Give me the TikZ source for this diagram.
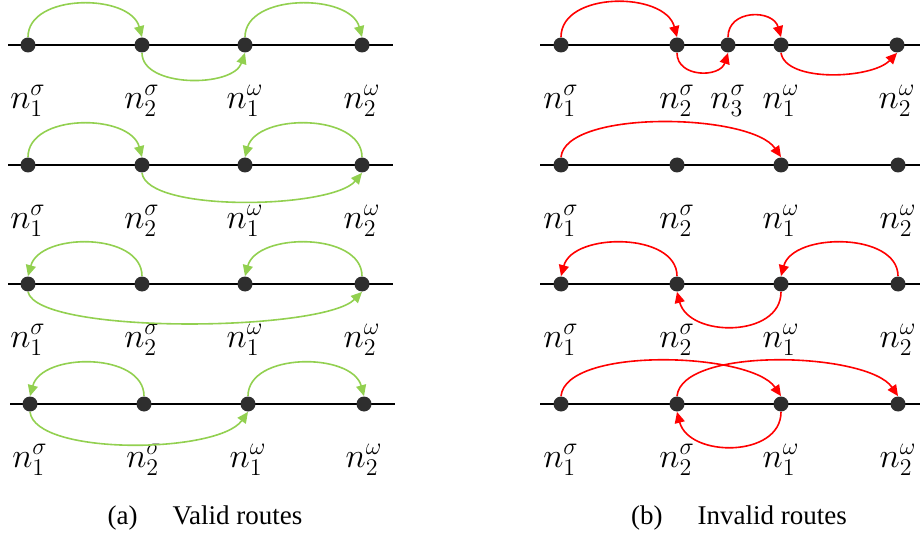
\documentclass[tikz,border=0pt]{standalone}
\usepackage{amsmath}
\usepackage{fontspec}
\setmainfont{Liberation Serif}
\usepackage{xcolor}
\usepackage{tikz}
\usetikzlibrary{arrows.meta, positioning}
\definecolor{RouteGreen}{HTML}{92D050}
\definecolor{RouteRed}{HTML}{FF0000}
\definecolor{DotGray}{HTML}{2E2E2E}

\begin{document}
\begin{tikzpicture}[
    x=0.5pt, y=-0.5pt,
    dot/.style={circle, fill=DotGray, inner sep=0pt, minimum size=7.5pt},
    track/.style={black, line width=1pt},
    lbl/.style={font=\fontsize{18}{21}\selectfont},
    good/.style={RouteGreen, line width=0.8pt, -{Triangle[length=5.5pt,width=5pt]}},
    bad/.style={RouteRed, line width=0.8pt, -{Triangle[length=5.5pt,width=5pt]}},
    subcap/.style={font=\fontsize{13.5}{16}\selectfont}
]
\useasboundingbox (0,0) rectangle (920,534);

% --- (a) valid routes ---
% row 1
\coordinate (a1b) at (8,45);
\coordinate (a1e) at (393,45);
\draw[track] (a1b) -- (a1e);
\node[dot] (a1s1) at (28,45) {};
\node[dot] (a1s2) at (142,45) {};
\node[dot] (a1w1) at (245,45) {};
\node[dot] (a1w2) at (362,45) {};
\node[lbl] at ([yshift=-28pt]a1s1) {$n_1^\sigma$};
\node[lbl] at ([yshift=-28pt]a1s2) {$n_2^\sigma$};
\node[lbl] at ([yshift=-28pt]a1w1) {$n_1^\omega$};
\node[lbl] at ([yshift=-28pt]a1w2) {$n_2^\omega$};
\draw[good] (a1s1.north) .. controls +(0,-44) and +(-12,-44) .. (a1s2.north);
\draw[good] (a1s2.south) .. controls +(0,35) and +(-12,35) .. (a1w1.south);
\draw[good] (a1w1.north) .. controls +(0,-44) and +(-12,-44) .. (a1w2.north);

% row 2
\coordinate (a2b) at (8,165);
\coordinate (a2e) at (393,165);
\draw[track] (a2b) -- (a2e);
\node[dot] (a2s1) at (28,165) {};
\node[dot] (a2s2) at (142,165) {};
\node[dot] (a2w1) at (245,165) {};
\node[dot] (a2w2) at (362,165) {};
\node[lbl] at ([yshift=-28pt]a2s1) {$n_1^\sigma$};
\node[lbl] at ([yshift=-28pt]a2s2) {$n_2^\sigma$};
\node[lbl] at ([yshift=-28pt]a2w1) {$n_1^\omega$};
\node[lbl] at ([yshift=-28pt]a2w2) {$n_2^\omega$};
\draw[good] (a2s1.north) .. controls +(0,-44) and +(-12,-44) .. (a2s2.north);
\draw[good] (a2s2.south) .. controls +(5,40) and +(-30,36) .. (a2w2.south);
\draw[good] (a2w2.north) .. controls +(0,-44) and +(12,-44) .. (a2w1.north);

% row 3
\coordinate (a3b) at (8,284);
\coordinate (a3e) at (393,284);
\draw[track] (a3b) -- (a3e);
\node[dot] (a3s1) at (28,284) {};
\node[dot] (a3s2) at (142,284) {};
\node[dot] (a3w1) at (245,284) {};
\node[dot] (a3w2) at (362,284) {};
\node[lbl] at ([yshift=-28pt]a3s1) {$n_1^\sigma$};
\node[lbl] at ([yshift=-28pt]a3s2) {$n_2^\sigma$};
\node[lbl] at ([yshift=-28pt]a3w1) {$n_1^\omega$};
\node[lbl] at ([yshift=-28pt]a3w2) {$n_2^\omega$};
\draw[good] (a3s2.north) .. controls +(0,-44) and +(12,-44) .. (a3s1.north);
\draw[good] (a3s1.south) .. controls +(10,43) and +(-40,40) .. (a3w2.south);
\draw[good] (a3w2.north) .. controls +(0,-44) and +(12,-44) .. (a3w1.north);

% row 4
\coordinate (a4b) at (10,404);
\coordinate (a4e) at (395,404);
\draw[track] (a4b) -- (a4e);
\node[dot] (a4s1) at (30,404) {};
\node[dot] (a4s2) at (144,404) {};
\node[dot] (a4w1) at (248,404) {};
\node[dot] (a4w2) at (364,404) {};
\node[lbl] at ([yshift=-28pt]a4s1) {$n_1^\sigma$};
\node[lbl] at ([yshift=-28pt]a4s2) {$n_2^\sigma$};
\node[lbl] at ([yshift=-28pt]a4w1) {$n_1^\omega$};
\node[lbl] at ([yshift=-28pt]a4w2) {$n_2^\omega$};
\draw[good] (a4s2.north) .. controls +(0,-44) and +(12,-44) .. (a4s1.north);
\draw[good] (a4s1.south) .. controls +(5,44) and +(-30,42) .. (a4w1.south);
\draw[good] (a4w1.north) .. controls +(0,-44) and +(-12,-44) .. (a4w2.north);

\node[subcap] (capa) at (205,518) {(a)\hspace{1.3em}Valid routes};

% --- (b) invalid routes ---
% row 1
\coordinate (b1b) at (540,45);
\coordinate (b1e) at (920,45);
\draw[track] (b1b) -- (b1e);
\node[dot] (b1s1) at (561,45) {};
\node[dot] (b1s2) at (677,45) {};
\node[dot] (b1s3) at (728,45) {};
\node[dot] (b1w1) at (781,45) {};
\node[dot] (b1w2) at (897,45) {};
\node[lbl] at ([yshift=-28pt]b1s1) {$n_1^\sigma$};
\node[lbl] at ([yshift=-28pt]b1s2) {$n_2^\sigma$};
\node[lbl] at ([yshift=-28pt]b1s3) {$n_3^\sigma$};
\node[lbl] at ([yshift=-28pt]b1w1) {$n_1^\omega$};
\node[lbl] at ([yshift=-28pt]b1w2) {$n_2^\omega$};
\draw[bad] (b1s1.north) .. controls +(0,-46) and +(-12,-46) .. (b1s2.north);
\draw[bad] (b1s2.south) .. controls +(0,25) and +(-8,25) .. (b1s3.south);
\draw[bad] (b1s3.north) .. controls +(0,-28) and +(-8,-28) .. (b1w1.north);
\draw[bad] (b1w1.south) .. controls +(5,30) and +(-25,26) .. (b1w2.south);

% row 2
\coordinate (b2b) at (540,165);
\coordinate (b2e) at (920,165);
\draw[track] (b2b) -- (b2e);
\node[dot] (b2s1) at (561,165) {};
\node[dot] (b2s2) at (677,165) {};
\node[dot] (b2w1) at (781,165) {};
\node[dot] (b2w2) at (898,165) {};
\node[lbl] at ([yshift=-28pt]b2s1) {$n_1^\sigma$};
\node[lbl] at ([yshift=-28pt]b2s2) {$n_2^\sigma$};
\node[lbl] at ([yshift=-28pt]b2w1) {$n_1^\omega$};
\node[lbl] at ([yshift=-28pt]b2w2) {$n_2^\omega$};
\draw[bad] (b2s1.north) .. controls +(5,-48) and +(-30,-44) .. (b2w1.north);

% row 3
\coordinate (b3b) at (540,284);
\coordinate (b3e) at (920,284);
\draw[track] (b3b) -- (b3e);
\node[dot] (b3s1) at (561,284) {};
\node[dot] (b3s2) at (677,284) {};
\node[dot] (b3w1) at (781,284) {};
\node[dot] (b3w2) at (898,284) {};
\node[lbl] at ([yshift=-28pt]b3s1) {$n_1^\sigma$};
\node[lbl] at ([yshift=-28pt]b3s2) {$n_2^\sigma$};
\node[lbl] at ([yshift=-28pt]b3w1) {$n_1^\omega$};
\node[lbl] at ([yshift=-28pt]b3w2) {$n_2^\omega$};
\draw[bad] (b3s2.north) .. controls +(0,-44) and +(12,-44) .. (b3s1.north);
\draw[bad] (b3w1.south) .. controls +(0,46) and +(12,46) .. (b3s2.south);
\draw[bad] (b3w2.north) .. controls +(0,-44) and +(12,-44) .. (b3w1.north);

% row 4
\coordinate (b4b) at (540,404);
\coordinate (b4e) at (920,404);
\draw[track] (b4b) -- (b4e);
\node[dot] (b4s1) at (561,404) {};
\node[dot] (b4s2) at (677,404) {};
\node[dot] (b4w1) at (781,404) {};
\node[dot] (b4w2) at (898,404) {};
\node[lbl] at ([yshift=-28pt]b4s1) {$n_1^\sigma$};
\node[lbl] at ([yshift=-28pt]b4s2) {$n_2^\sigma$};
\node[lbl] at ([yshift=-28pt]b4w1) {$n_1^\omega$};
\node[lbl] at ([yshift=-28pt]b4w2) {$n_2^\omega$};
\draw[bad] (b4s1.north) .. controls +(5,-50) and +(-30,-44) .. (b4w1.north);
\draw[bad] (b4s2.north) .. controls +(5,-50) and +(-30,-44) .. (b4w2.north);
\draw[bad] (b4w1.south) .. controls +(0,46) and +(12,46) .. (b4s2.south);

\node[subcap] (capb) at (739,518) {(b)\hspace{1.3em}Invalid routes};
\end{tikzpicture}
\end{document}
